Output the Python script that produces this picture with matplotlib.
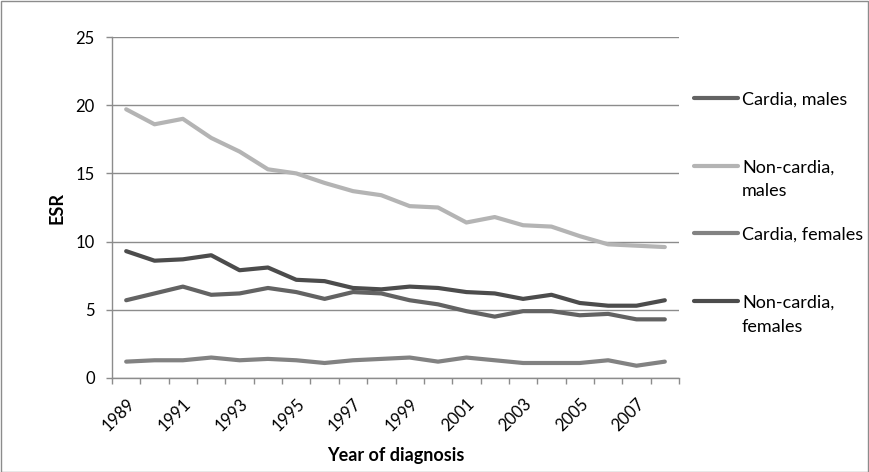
import matplotlib.pyplot as plt
from matplotlib.lines import Line2D
from matplotlib.patches import Rectangle

plt.rcParams['font.family'] = ['Lato', 'DejaVu Sans']

years = list(range(1989, 2009))
non_cardia_males = [19.7, 18.6, 19.0, 17.6, 16.6, 15.3, 15.0, 14.3, 13.7, 13.4,
                    12.6, 12.5, 11.4, 11.8, 11.2, 11.1, 10.4, 9.8, 9.7, 9.6]
non_cardia_females = [9.3, 8.6, 8.7, 9.0, 7.9, 8.1, 7.2, 7.1, 6.6, 6.5,
                      6.7, 6.6, 6.3, 6.2, 5.8, 6.1, 5.5, 5.3, 5.3, 5.7]
cardia_males = [5.7, 6.2, 6.7, 6.1, 6.2, 6.6, 6.3, 5.8, 6.3, 6.2,
                5.7, 5.4, 4.9, 4.5, 4.9, 4.9, 4.6, 4.7, 4.3, 4.3]
cardia_females = [1.2, 1.3, 1.3, 1.5, 1.3, 1.4, 1.3, 1.1, 1.3, 1.4,
                  1.5, 1.2, 1.5, 1.3, 1.1, 1.1, 1.1, 1.3, 0.9, 1.2]

labels = ['Cardia, males', 'Non-cardia,\nmales', 'Cardia, females', 'Non-cardia,\nfemales']
series = [cardia_males, non_cardia_males, cardia_females, non_cardia_females]
colors = ['#636363', '#b4b4b4', '#828282', '#4c4c4c']

W, H = 869, 472
fig = plt.figure(figsize=(W / 100, H / 100), dpi=100)
ax = fig.add_axes([112 / W, 1 - 378 / H, (679 - 112) / W, (378 - 37) / H])

x = list(range(len(years)))
# darker lines sit on top
for i in [2, 1, 0, 3]:
    ax.plot(x, series[i], color=colors[i], lw=3.0, solid_capstyle='round',
            solid_joinstyle='round', zorder=3)

ax.set_xlim(-0.5, len(years) - 0.5)
ax.set_ylim(0, 25)
ax.set_yticks([0, 5, 10, 15, 20, 25])
ax.grid(axis='y', color='#8c8c8c', lw=1)
ax.set_axisbelow(True)

# category axis: ticks between categories, labels every other year
ax.set_xticks([b - 0.5 for b in range(len(years) + 1)])
ax.set_xticklabels([])
ax.set_xticks(x[::2], minor=True)
ax.set_xticklabels([str(y) for y in years[::2]], minor=True, rotation=45,
                   ha='right', va='top', rotation_mode='anchor', fontsize=12)
ax.tick_params(axis='x', which='major', length=4.3, color='#8c8c8c', width=1)
ax.tick_params(axis='x', which='minor', length=0, pad=13)
ax.tick_params(axis='y', length=4.3, color='#8c8c8c', width=1, labelsize=12, pad=8)

for s in ['top', 'right']:
    ax.spines[s].set_visible(False)
for s in ['left', 'bottom']:
    ax.spines[s].set_color('#8c8c8c')
    ax.spines[s].set_linewidth(1)

ax.set_ylabel('ESR', fontsize=13, fontweight='bold', labelpad=7)
ax.set_xlabel('Year of diagnosis', fontsize=13, fontweight='bold', labelpad=9)

# legend on the right, wrapped labels drawn line by line
leg_y = [98, 166, 233, 301]
for lab, col, yy in zip(labels, colors, leg_y):
    yf = 1 - yy / H
    fig.add_artist(Line2D([694 / W, 738 / W], [yf, yf], color=col, lw=3.0,
                          solid_capstyle='round', transform=fig.transFigure))
    for k, part in enumerate(lab.split('\n')):
        fig.text(742 / W, 1 - (yy + 6.5 + 24 * k) / H, part, fontsize=13,
                 ha='left', va='baseline')

# outer chart border
fig.add_artist(Rectangle((0.5 / W, 0.5 / H), 1 - 1.5 / W, 1 - 1.5 / H,
                         transform=fig.transFigure, fill=False,
                         edgecolor='#8c8c8c', lw=1))

fig.savefig('out.png', dpi=100, facecolor='white')
